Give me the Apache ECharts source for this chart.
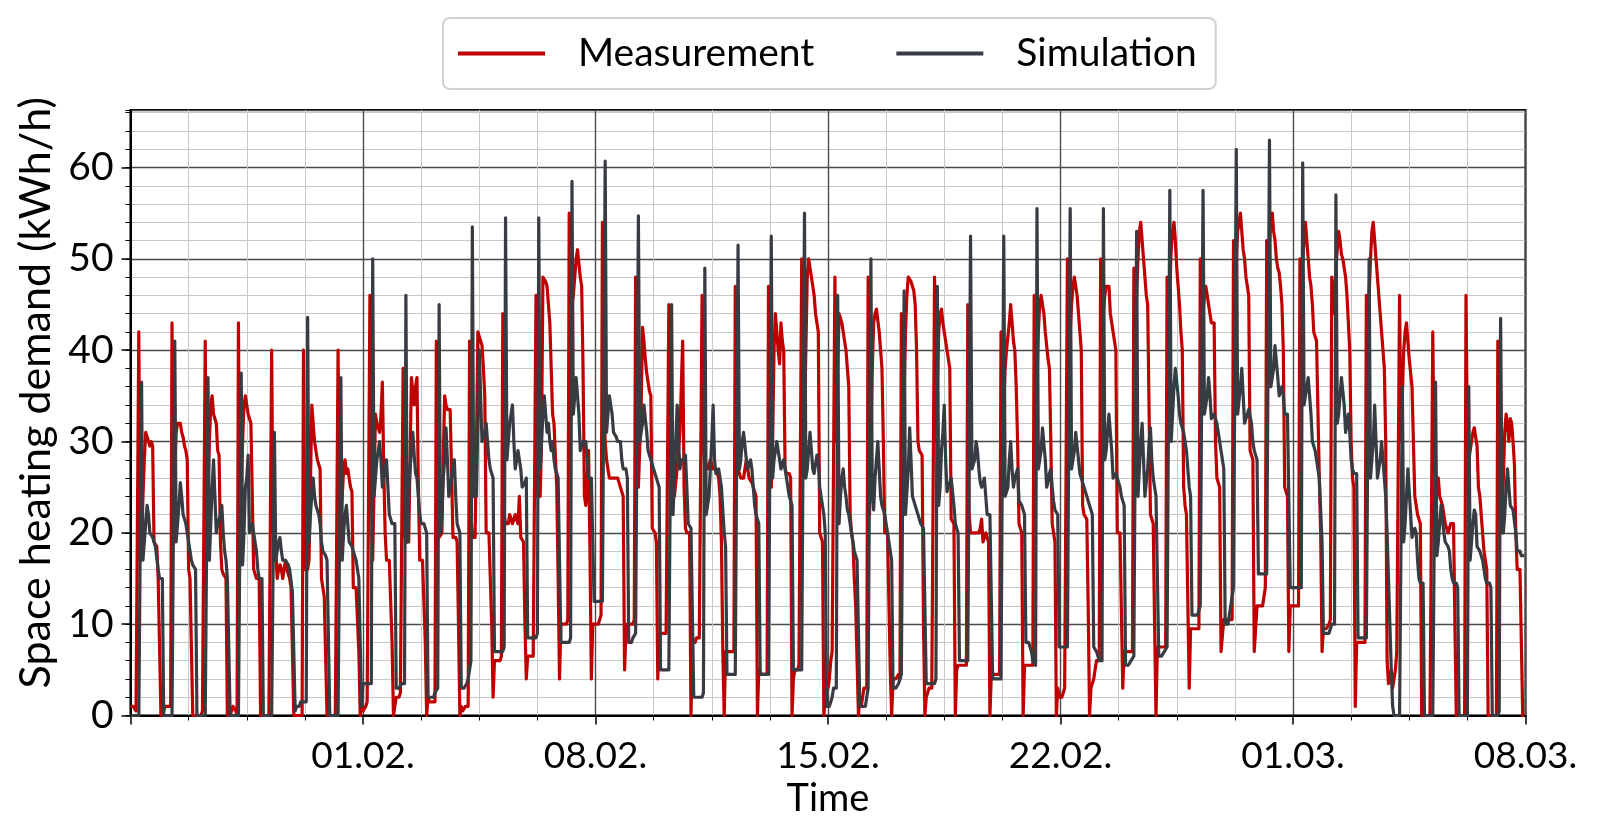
<!DOCTYPE html>
<html>
<head>
<meta charset="utf-8">
<script src="https://cdn.jsdelivr.net/npm/echarts@6/dist/echarts.min.js"></script>
<style>
html,body{margin:0;padding:0;background:#fff;}
#chart{width:1598px;height:839px;}
</style>
</head>
<body>
<div id="chart"></div>
<script>
// Hourly space heating demand (kWh/h), 25.01. 00:00 -> 08.03. 00:00, one line per day
const measurement = [
1,1,1,1,0.5,0.5,42,17,20,24,28,31,31,30,29.5,30,29.5,19,19,18.5,15,15,0,0,
0.5,1,1,1,1,1,43,20,27,31,32,32,32,31,30.5,29.5,29,28,16,15,15,0,0,0,
0,0,0,0,0.5,0.5,41,17,24,30,34,35,33,32.5,32,29,28.5,19,16,15.5,15.5,15,0,0,
0,0,1,1,0.5,0,43,18,24,30,34,35,34,33,32.5,32,32,16,16,15,15,15,0,0,
0,0,0,0,0,0,40,20,21,21,15,16,16.5,16,15,16,17,16,15.5,15,14,14,0,0,
0,0,0,0,0,40,16,16,16,17,25,34,32,30,29,28,28,27,15,15,13,13,0,0,
0,0,0,0,0,0,40,17,20,24,27,28,26.5,27,27,25,24.5,14,14,14,14,7,0,1,
0.5,0.5,1,1.5,1.5,46,25,17,25,33,32,31.5,31,33,36.5,27,20,17,17,17,17,8,0,1,
2,2,2,2.5,2.5,38,20,19,19,19,28,37,37,34,36,37,25,17,17,17,17,8,0,2,
1.5,1.5,1.5,1.5,1.5,41,22,19.5,19.5,20,28,35,34,33.5,33.5,33.5,33.5,19.5,19.5,19.5,19,10,0,1,
0.5,0.5,1,1,1,41,22,19.5,19.5,19.5,30,42,41.5,41,40.5,38,35,20,20,20,20,10,2,6,
6,6,6,6,6.5,44,22,21,21,21,22,22,21,21,22,22,21,24,19.5,19.5,19,10,4,6.5,
6.5,6.5,6.5,6.5,6.5,46,24,24,24,30,48,48,47.5,47,45,43,38,33,32,32,25,15,4,10,
10,10,10,10,10.5,55,47,45,46,48,50,51,49.5,48,47,38,24,23,23,29,18,4,10,10,
10,10,10,10.5,11,54,35,30,28,27,26,26,26,26,26,26,26,25.5,25,25,24,5,9,10,
10,10,10,10,10.5,48,30,25,25,34,42.5,41,39,37.5,36.5,35.5,35,20.5,20.5,20,19,4,8,9,
9,9,9,9,9,45,30,24,24,24,24,27,29,31,36,41,25,20.5,20,20,20,0,8.5,8.5,
8,8.5,8.5,8.5,8.5,46,30,27,27,27,27.5,28,28,27,27,27,27,26,24,19,7,0,7,7,
7,7,7,7,7,47,30,27,26.5,26,26,26,26,28,27,26,26,25.5,25,25,24,0,5,5,
4.5,4.5,4.5,4.5,4.5,47,30,25,30,40,44,42,40,38.5,43,41,40,27,26.5,26.5,26.5,26,0,4,
5,5,5,5.5,5.5,50,35,32,40,48,50,49,48,47,46,44,43,42,20,20,19,0,2,4,
3,4,6,7,7,48,30,38,44,44,43,42,42,40,38,36,22,20,19,15,12,6,0,2,
1,2,3,3,3,48,22,30,38,43,44,44.5,44.5,42,40,38,30,20,20,20,20,5,0,4,
4,4,4,4.5,4,44,30,35,42,46,48,48,47.5,47,46.5,45,40,30,29,29,28.5,10,0,2,
2,3,3,3,3,48,30,36,42,44,44.5,43,42,41,40,39,38,21.5,21.5,21,0,5,5.5,5.5,
5.5,5.5,5.5,5.5,5.5,45,22,20,20,20,20,20,20,20,20.5,21.5,19,19.5,20,20,19,0,4.5,4.5,
4.5,4.5,4.5,4.5,4.5,42,30,34,38,40,40,43,45,43,41,40,36,30,21,21,20,0,5.5,5.5,
5.5,5.5,5.5,5.5,5.5,46,30,36,42,45,46,46,44,42,40.5,39,38,30,21,20,19,0,3,2,
2,2,2.5,3,3,50,40,42,45,47,48,48,46,44,44,40,23,22,22,21.5,12,0,3,3,
4,5,6,6,6,50,42,44,46,47,47,47,44,43,42,41,40,20,20,20,20,3,7,7,
7,7,7,7,7,49,40,46,50,53,54,52,50,48,46,45,45,22,22,21,10,0,7.5,7.5,
7.5,7.5,7.5,7.5,7.5,48,42,47,51,53,54,52,49,47,45,42,40,25,23,22,22,3,9.5,9.5,
9.5,9.5,9.5,9.5,9.5,50,40,44,46,47,47,45,44,43,43,43,30,26,26,25,7,7,10.5,10.5,
10.5,10.5,10.5,10.5,10.5,52,45,50,53,54,55,53,51,50,48,47,46,29,29,28,7,7,12,12,
12,12,12,13,14,52,47,52,54,55,53,52,50,49,48.5,47,45,40,25,24.5,24,7,12,12,
12,12,12,12,12,50,45,50,52,54,52,50,48,47,45,42,42,41,41,26,20,7,9.5,9.5,
9.5,9.5,10,10.5,48,44,46,49,51,53,52,50.5,50,49,48,46,43,40,30,26,25,1,8,8,
8,8,8,8,8,46,40,46,50,53,54,52,50,48,46,44,42,40,38,30,6,3.5,3.5,5,
3,3,5,7,7,46,30,35,40,42,43,41,39,37.5,36,30,24,23,22,21.5,21,0,0,0,
0,0,0,0,0,42,28,26,26,26,24,23.5,23,22,21,20.5,20,20.5,21,21,21,10,0,0,
0,0,0,0,0,46,30,28,29,30,31,31.5,30.5,29.5,25,24,22,20,18,17,16,0,0,0,
0,0,0,0,41,25,21,20,26,31,33,32,30,32.5,32,30,27.5,20,16,16,16,16,0,0
];
const simulation = [
0,0,0,0,0,0,0,0,36.5,17,19,21,23,22,20,20,19.5,19,18.5,18.5,16,15,15,15,
0,0,0,0,0,0,0,0,41,19,21,23,25.5,24,22,21.5,21,21,19,18,17,16.5,16.5,16,
0,0,0,0,0,0,0,0,37,17,21,25,28,24,20,21,21,22,23,20,18,17,15,15,
0,0,0,0,0,0,0,0,37.5,16.5,20,25,26,28.5,20,20,21,21,19,18,16,15,15,15,
0,0,0,0,0,0,0,0,31,17,18,19,19.5,18,17,17,17,17,16.5,16,16,13.5,13.5,0.5,
1,1,1,1.5,1.5,1.5,1.5,1.5,43.6,19,22,24,26,24,23,22.5,22,21,19,18,18,17.5,17,17,
0,0,0,0,0,0,0,0,37,17,20,22,23,21,19,19,18.5,18,18,17,16,15,15,1,
3.5,3.5,3.5,3.5,3.5,3.5,3.5,50,24,26,28,29,30,28,25,26,27,28,25,22,22,21,21,21,
3,3,3,3,3.5,3.5,3.5,46,19,24,27,29,31,28.5,26.5,26,24,22,21,21,21,20.5,20,2,
2,2,2,2,2.5,2.5,3,45,20,22,26,28,31.5,28,24,25,26,27,28,24,21,20.5,20,3,
3,3,3,3.5,4,5,6,53.5,24,24,24,32,40,35,30,30,31,32,30,28,27,26.5,26,7,
7,7,7,7,7,7,7.5,54.5,28,30,32,33,34,30,27,28,29,29,27,25,25,25.5,26,8.5,
8.5,8.5,8.5,8.5,8.5,8.5,9,54.5,27,30,33,35,33,31,32,30,29,30,28,27,26.5,26,26,8,
8,8,8,8,8,8,8.5,58.5,33,35,37,37,33,29,29,30,30,30,28,26,26,26,26,12.5,
12.5,12.5,12.5,12.5,12.5,12.5,12.5,60.7,31,33,35,35,33,31,31,30.5,30,30,30,28,27,27,27,26,
8,8,8,8.5,8.5,9,9,54.7,30,31,32,34,34,31,29,28.5,28,27.5,27,26.5,26,25.5,25,5,
5,5,5,5,5,5,5,45,22,26,30,34,30,27,28,28,28,28.5,25,21,21,20.5,20.5,2,
2,2,2,2,2,2,2.5,49,22,22,24,27,30,34,28,26.5,26.5,27,27,25,22.5,20,18.5,4.5,
4.5,4.5,4.5,4.5,4.5,4.5,4.5,51.5,27,28,30,31,31,28,27,27.5,28,27,25,23,22,22,21,4.5,
4.5,4.5,4.5,4.5,4.5,4.5,4.5,52.5,26,28,29,30,30,28,27,27.5,28,28,26,25,24,24,23,5,
5,5,5,5,5,5,5,55,26,27,29,31,31,27,26.5,27.5,28.5,28,25,24,23,22,20,1,
1,1,1,2,3,3,3,46,21,24,26,27,25,24,22.5,22,21,20,19,18,17.5,17,17,1,
1,1,1,1,2,3,3,50,24,22.5,26,28,30,27,24,23,22.5,22,21,20,19,18,17,3,
3,3,3,3.5,4,4.5,4.5,46.5,22,22,27,31.5,28,24,23.5,23,22.5,22,22,21,21,20.5,20.5,3.5,
3.5,3.5,3.5,3.5,3.5,3.5,4,47,23,25,29,31,34,28,24.5,25,25.5,26,26,23,21,21,20,6,
6,6,6,6,6,6,6,52.5,27,27,28,30,29,27,25.5,25,25.5,26,24,22,22,22,22,4,
4,4,4,4,4,4,4,52.5,24,24,25,28,30,27,25,26,26.5,27,23.5,23.5,23,22.5,22,8,
8,8,8,7,6,6,5.5,55.5,27,27,29,31.5,31.5,28,25,25.5,26.5,27,25,23.5,22.5,22.5,22,7.5,
7.5,7.5,7.5,7.5,7.5,7.5,7.5,55.5,27,27,29,31,31,28,26.5,26,25.5,25,24.5,24,23.5,23,23,22,
7.5,7.5,7,6.5,6,6,6,55.5,28,29,31,33,33,29,26,26,26.5,26,26,25,24,23.5,23,5.5,
5.5,5.5,5.5,6,6,6.5,6.5,53,24,27,30,32,32,24,24,27,30,31.5,28,26,25,24,24,6.5,
6.5,6.5,6.5,7,7,7.5,7.5,57.5,30,33,36,38,38,35,33,32,32,31,30,29,27,25,24,11,
11,11,11,11,11.5,12,12,57.5,33,33,35,37,35,32.5,32.5,33,33,32,31,30,29,28,27,10,
10,10,11,12,13,14,14,62,33,33,36,38,35,32,32.5,33,33.5,33.5,32,30,29,29,28,15.5,
15.5,15.5,15.5,15.5,15.5,15.5,15.5,63,36,36,38,40.5,40.5,37,35,35.5,36,35,33,33,33,33,14,14,
14,14,14,14,14,14,14,60.5,34,35,36,37,37,33,30,29.5,29,28,27,26,26,19,9,9,
9,9,9,9.5,10,10,10,57,32,33,35,37,37,34,31,32,33,31,28,27,26.5,26.5,26.5,8.5,
8.5,8.5,8.5,8.5,8.5,8.5,8.5,50,26,26,30,34,34,26,26,28,30,30,26,24,20,15,10,5,
1,0,0,0,0,0,0,36,19,21,24,27,27,22,19.5,20,20.5,20,17,15,14.5,14.5,14.5,0,
0,0,0,0,0,0,0,36.5,17.5,19,21,23,23,20,19,18.8,18.5,18,16,15,14.5,14.5,14.5,14,
0,0,0,0,0,0,0,36,17,19,21,22.5,22,18.5,18.5,18,17.5,17,16,15,14.5,14.5,14.5,14,
0,0,0,0,0,0.5,43.5,24,20,22,25,27,25,23,23,22.5,22.5,20,18,18,18,17.5,17.5,17.5
];
const xTickLabels = ['', '01.02.', '08.02.', '15.02.', '22.02.', '01.03.', '08.03.'];
const hoursPerWeek = 168;
const totalHours = 1008;
const yMax = 66.3;

const FONT = 'Lato, "Open Sans", "DejaVu Sans", sans-serif';
const chart = echarts.init(document.getElementById('chart'), null, {renderer: 'canvas'});
const toPairs = arr => arr.map((v, i) => [i, v]);

chart.setOption({
  backgroundColor: '#ffffff',
  animation: false,
  textStyle: {fontFamily: FONT},
  legend: {
    data: ['Measurement', 'Simulation'],
    top: 18,
    left: 443,
    icon: 'rect',
    itemWidth: 87,
    itemHeight: 4,
    itemGap: 82,
    padding: [16, 19, 16, 15],
    borderColor: '#d0d0d0',
    borderWidth: 2,
    borderRadius: 7,
    textStyle: {fontFamily: FONT, fontSize: 39, color: '#000', padding: [0, 0, 0, 28]}
  },
  grid: {
    left: 130.5, right: 72.5, top: 110, bottom: 123.5,
    show: true, borderColor: '#000', borderWidth: 2, backgroundColor: 'transparent'
  },
  xAxis: {
    type: 'value',
    min: 0, max: totalHours, interval: hoursPerWeek,
    name: 'Time', nameLocation: 'middle', nameGap: 64,
    nameTextStyle: {fontFamily: FONT, fontSize: 38, color: '#000'},
    axisLine: {show: true, onZero: false, lineStyle: {color: '#000', width: 2}},
    axisTick: {show: true, length: 9, lineStyle: {color: '#000', width: 1.5}},
    minorTick: {show: true, splitNumber: 4, length: 5, lineStyle: {color: '#000', width: 1}},
    axisLabel: {
      fontFamily: FONT, fontSize: 37, color: '#000', margin: 22,
      formatter: v => xTickLabels[Math.round(v / hoursPerWeek)] || ''
    },
    splitLine: {show: true, lineStyle: {color: '#4a4a4a', width: 1.4}},
    minorSplitLine: {show: true, lineStyle: {color: '#c8c8c8', width: 1}}
  },
  yAxis: [
    {
      type: 'value', min: 0, max: yMax, interval: 2, position: 'left',
      axisLine: {show: false},
      axisTick: {show: true, length: 5, lineStyle: {color: '#000', width: 1}},
      axisLabel: {show: false},
      splitLine: {show: true, lineStyle: {color: '#c8c8c8', width: 1}}
    },
    {
      type: 'value', min: 0, max: yMax, interval: 10, position: 'left',
      name: 'Space heating demand (kWh/h)', nameLocation: 'middle', nameGap: 67,
      nameTextStyle: {fontFamily: FONT, fontSize: 43, color: '#000', padding: [0, 0, 0, 40]},
      axisLine: {show: true, onZero: false, lineStyle: {color: '#000', width: 2}},
      axisTick: {show: true, length: 9, lineStyle: {color: '#000', width: 1.5}},
      axisLabel: {fontFamily: FONT, fontSize: 39, color: '#000', margin: 17, showMaxLabel: false,
        formatter: v => (v % 10 === 0 ? String(v) : '')},
      splitLine: {show: true, lineStyle: {color: '#4a4a4a', width: 1.4}}
    }
  ],
  series: [
    {
      name: 'Measurement', type: 'line', yAxisIndex: 1, data: toPairs(measurement),
      showSymbol: false, symbol: 'none', color: '#c00000',
      lineStyle: {color: '#c00000', width: 3.2, join: 'round'}
    },
    {
      name: 'Simulation', type: 'line', yAxisIndex: 1, data: toPairs(simulation),
      showSymbol: false, symbol: 'none', color: '#373c43',
      lineStyle: {color: '#373c43', width: 3.2, join: 'round'}
    }
  ]
});
</script>
</body>
</html>
